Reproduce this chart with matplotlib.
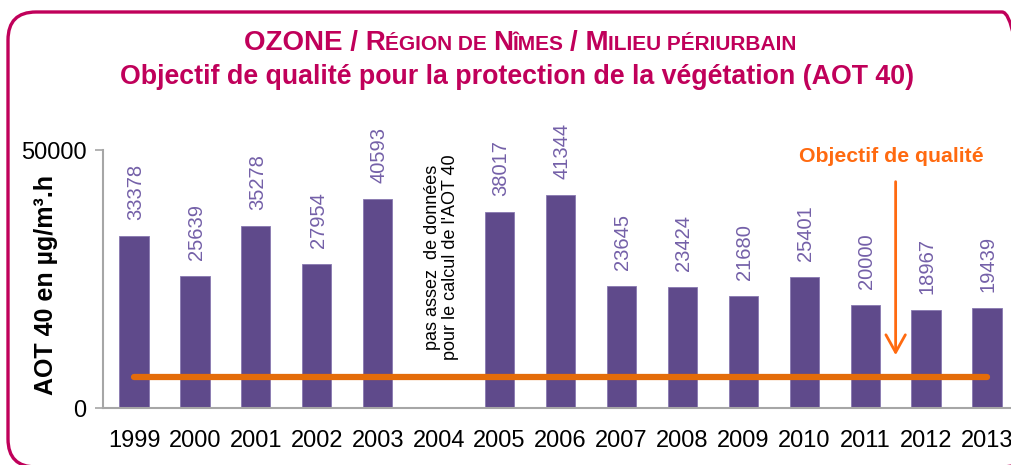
import numpy as np
import matplotlib
matplotlib.use("Agg")
import matplotlib.pyplot as plt
from matplotlib.patches import FancyBboxPatch
from matplotlib.transforms import IdentityTransform
from matplotlib.offsetbox import TextArea, HPacker, AnnotationBbox

plt.rcParams['font.family'] = ['Liberation Sans', 'DejaVu Sans']

years = [str(y) for y in range(1999, 2014)]
aot40 = [33378, 25639, 35278, 27954, 40593, np.nan, 38017, 41344,
         23645, 23424, 21680, 25401, 20000, 18967, 19439]
objectif = 6000
note_2004 = "pas assez  de données\npour le calcul de l'AOT 40"

# title line 1 in small caps: (text, small?)
title_parts = [("OZONE / R", False), ("ÉGION DE ", True), ("N", False),
               ("ÎMES ", True), ("/ M", False), ("ILIEU PÉRIURBAIN", True)]
title2 = "Objectif de qualité pour la protection de la végétation (AOT 40)"

crimson = "#C0005A"
bar_col = "#5F4A8B"
lab_col = "#7460A8"
orange = "#E46C0A"
orange_txt = "#FF6A10"
grey = "#A6A6A6"

fig = plt.figure(figsize=(10.12, 4.65), dpi=100)

# rounded frame, in pixels (origin bottom-left)
frame = FancyBboxPatch((8, -2), 1022, 465 - 12 + 2,
                       boxstyle="round,pad=0,rounding_size=28",
                       transform=IdentityTransform(), facecolor="none",
                       edgecolor=crimson, linewidth=2.4, clip_on=False)
fig.patches.append(frame)

ax = fig.add_axes([103 / 1012, 1 - 408 / 465, 909 / 1012, 258 / 465])
x = np.arange(len(years))
vals = np.array(aot40, dtype=float)
ax.bar(x, vals, width=0.48, color=bar_col, edgecolor="#8878B0", linewidth=0.6)
ax.set_xlim(-0.509, 14.41)
ax.set_ylim(0, 50000)
ax.set_yticks([0, 50000])
ax.set_xticks(x)
ax.set_xticklabels(years, fontsize=17)
ax.tick_params(axis='y', labelsize=17, length=6, width=1.2, color=grey, pad=6)
ax.tick_params(axis='x', length=0, pad=16)
for s in ("top", "right"):
    ax.spines[s].set_visible(False)
for s in ("left", "bottom"):
    ax.spines[s].set_color(grey)
    ax.spines[s].set_linewidth(1.5)

for xi, v in zip(x, vals):
    if np.isnan(v):
        continue
    ax.annotate(f"{int(v)}", (xi, v), xytext=(1, 11.5), textcoords="offset points",
                rotation=90, ha="center", va="bottom", fontsize=14.5,
                color=lab_col, annotation_clip=False)

ax.plot([x[0], x[-1]], [objectif, objectif], color=orange, linewidth=4.5,
        solid_capstyle="round", zorder=3)

ax.text(5.05, 29260, note_2004, rotation=90, ha="center", va="center",
        fontsize=13, linespacing=1.05)

ax.annotate("", xy=(12.5, 9700), xytext=(12.5, 44400),
            arrowprops=dict(arrowstyle="->,head_length=0.9,head_width=0.5",
                            mutation_scale=14, color=orange_txt, linewidth=2))
ax.text(12.43, 48700, "Objectif de qualité", ha="center", va="center",
        fontsize=15.3, fontweight="bold", color=orange_txt)

ax.set_ylabel("AOT 40 en µg/m³.h", fontsize=18, fontweight="bold")
ax.yaxis.set_label_coords(-0.049, 0.475)

# title
boxes = [TextArea(t, textprops=dict(fontsize=15 if small else 20,
                                     fontweight="bold", color=crimson))
         for t, small in title_parts]
pack = HPacker(children=boxes, align="baseline", pad=0, sep=0)
ab = AnnotationBbox(pack, (520 / 1012, 1 - 43 / 465), xycoords="figure fraction",
                    frameon=False, box_alignment=(0.5, 0.5))
fig.add_artist(ab)
fig.text(517 / 1012, 1 - 77 / 465, title2, ha="center", va="center",
         fontsize=19.3, fontweight="bold", color=crimson)

fig.savefig("out.png", dpi=100)
